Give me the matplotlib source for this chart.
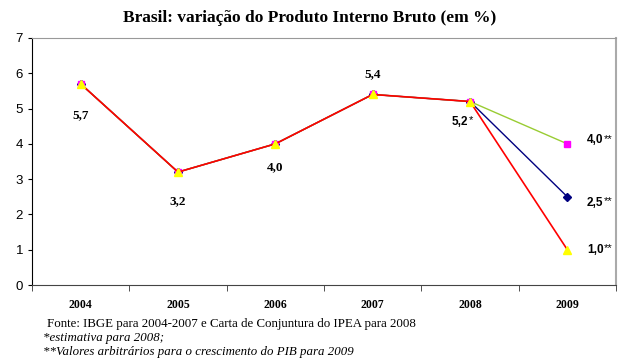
import numpy as np
import matplotlib.pyplot as plt

anos = ['2004', '2005', '2006', '2007', '2008', '2009']
# tres cenarios: iguais ate 2008, diferentes em 2009
pib_alto = [5.7, 3.2, 4.0, 5.4, 5.2, 4.0]
pib_medio = [5.7, 3.2, 4.0, 5.4, 5.2, 2.5]
pib_baixo = [5.7, 3.2, 4.0, 5.4, 5.2, 1.0]
rotulos = ['5,7', '3,2', '4,0', '5,4', '5,2']
rotulos_2009 = ['4,0', '2,5', '1,0']

x = np.arange(len(anos))

fig = plt.figure(figsize=(6.2, 3.62), dpi=100)
ax = fig.add_axes([32/620, 1-285/362, (616-32)/620, (285-38)/362])

ax.plot(x, pib_medio, color='#000080', lw=1, marker='D', ms=4,
        mfc='#000080', mec='#000080', zorder=3)
ax.plot(x, pib_alto, color='#99cc33', lw=1, marker='s', ms=5,
        mfc='#ff00ff', mec='#ff00ff', zorder=4)
ax.plot(x, pib_baixo, color='#ff0000', lw=1.2, marker='^', ms=6,
        mfc='#ffff00', mec='#ffff00', zorder=5)

serif = 'Liberation Serif'
sans = 'Liberation Sans'

# rotulos dos pontos
off = [(0, -0.88), (0, -0.82), (0, -0.65), (0, 0.57)]
for i, r in enumerate(rotulos[:4]):
    dx, dy = off[i]
    ax.text(x[i] + dx, pib_baixo[i] + dy, r, ha='center', va='center',
            fontsize=9.5, fontweight='bold', family=serif)
t = ax.text(x[4] - 0.1, pib_baixo[4] - 0.57, rotulos[4], ha='center', va='center',
            fontsize=8.5, family=sans, fontweight='bold')
ax.annotate('*', xy=(1, 1), xycoords=t, xytext=(0.3, 0.5), textcoords='offset points',
            ha='left', va='top', fontsize=8, family=sans)

ajuste = [0.1, -0.17, 0.0]
for v, r, a in zip([pib_alto[5], pib_medio[5], pib_baixo[5]], rotulos_2009, ajuste):
    t = ax.text(x[5] + 0.2, v + a, r, ha='left', va='center', fontsize=8.5,
                family=sans, fontweight='bold')
    ax.annotate('**', xy=(1, 1), xycoords=t, xytext=(0.3, 0.5),
                textcoords='offset points', ha='left', va='top',
                fontsize=8, family=sans)

ax.set_xlim(-0.5, 5.5)
ax.set_ylim(0, 7)
ax.set_yticks(range(8))
ax.set_xticks(x)
ax.set_xticklabels(anos, family=serif, fontweight='bold', fontsize=8.5)
ax.set_xticks(np.arange(-0.5, 6, 1), minor=True)
ax.tick_params(axis='x', which='major', length=0, pad=10)
ax.tick_params(axis='x', which='minor', length=4, direction='out', color='#333333')
ax.tick_params(axis='y', length=3, direction='out', labelsize=9.5)
for lb in ax.get_yticklabels():
    lb.set_family(sans)

ax.spines['left'].set_color('black')
ax.spines['bottom'].set_color('#444444')
ax.spines['top'].set_color('#999999')
ax.spines['right'].set_color('#aaaaaa')
ax.spines['right'].set_linewidth(1.5)

fig.text(0.5, 1-18/362, 'Brasil: variação do Produto Interno Bruto (em %)',
         ha='center', va='center', family=serif, fontweight='bold', fontsize=12.5)

fig.text(47/620, 1-324/362,
         'Fonte: IBGE para 2004-2007 e Carta de Conjuntura do IPEA para 2008',
         ha='left', va='center', family=serif, fontsize=9.3)
fig.text(43/620, 1-338/362, '*estimativa para 2008;', ha='left', va='center',
         family=serif, style='italic', fontsize=9.3)
fig.text(43/620, 1-352/362, '**Valores arbitrários para o crescimento do PIB para 2009',
         ha='left', va='center', family=serif, style='italic', fontsize=9.3)

fig.savefig('out.png', dpi=100)
